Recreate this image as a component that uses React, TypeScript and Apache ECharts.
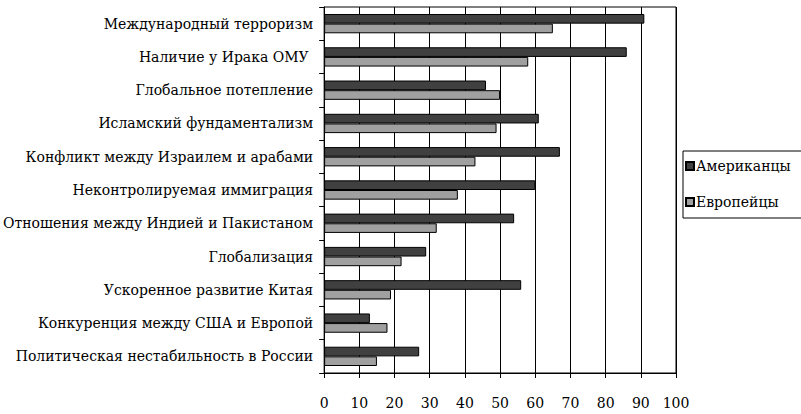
import React, { useEffect, useRef } from "react";
import * as echarts from "echarts";

const categories = [
  "Международный терроризм",
  "Наличие у Ирака ОМУ ",
  "Глобальное потепление",
  "Исламский фундаментализм",
  "Конфликт между Израилем и арабами",
  "Неконтролируемая иммиграция",
  "Отношения между Индией и Пакистаном",
  "Глобализация",
  "Ускоренное развитие Китая",
  "Конкуренция между США и Европой",
  "Политическая нестабильность в России",
];
const americans = [91, 86, 46, 61, 67, 60, 54, 29, 56, 13, 27];
const europeans = [65, 58, 50, 49, 43, 38, 32, 22, 19, 18, 15];
const seriesNames = ["Американцы", "Европейцы"];

const FONT = "DejaVu Serif";

export default function App() {
  const ref = useRef<HTMLDivElement>(null);
  useEffect(() => {
    const chart = echarts.init(ref.current!, null, { renderer: "svg" });
    chart.setOption({
      animation: false,
      backgroundColor: "#ffffff",
      textStyle: { fontFamily: FONT, color: "#000" },
      grid: {
        left: 321,
        right: 125,
        top: 7,
        bottom: 41,
        show: true,
        borderColor: "#000",
        borderWidth: 1,
      },
      legend: {
        orient: "vertical",
        left: 683,
        top: 151,
        padding: [8, 30, 9, 2],
        itemWidth: 8,
        itemHeight: 8,
        itemGap: 22,
        borderColor: "#000",
        borderWidth: 1,
        icon: "rect",
        textStyle: { fontFamily: FONT, fontSize: 14, color: "#000", padding: [0, 0, 0, -3] },
        data: seriesNames,
      },
      xAxis: {
        type: "value",
        min: 0,
        max: 100,
        interval: 10,
        axisLine: { show: true, lineStyle: { color: "#000" } },
        axisTick: { show: true, length: 5, inside: false, lineStyle: { color: "#000" } },
        axisLabel: { fontFamily: FONT, fontSize: 14, color: "#000", margin: 23 },
        splitLine: { show: true, lineStyle: { color: "#000", width: 1 } },
      },
      yAxis: {
        type: "category",
        data: categories,
        inverse: true,
        axisLine: { show: true, lineStyle: { color: "#000" } },
        axisTick: { show: true, length: 5, lineStyle: { color: "#000" } },
        axisLabel: { fontFamily: FONT, fontSize: 14, color: "#000", margin: 11 },
        splitLine: { show: false },
      },
      series: [
        {
          name: seriesNames[0],
          type: "bar",
          data: americans,
          barGap: "0%",
          barCategoryGap: "42%",
          itemStyle: { color: "#404040", borderColor: "#000", borderWidth: 1 },
        },
        {
          name: seriesNames[1],
          type: "bar",
          data: europeans,
          itemStyle: { color: "#a0a0a0", borderColor: "#000", borderWidth: 1 },
        },
      ],
    });
    return () => chart.dispose();
  }, []);
  return <div ref={ref} style={{ width: 801, height: 414, position: "absolute", left: 0, top: 0 }} />;
}
